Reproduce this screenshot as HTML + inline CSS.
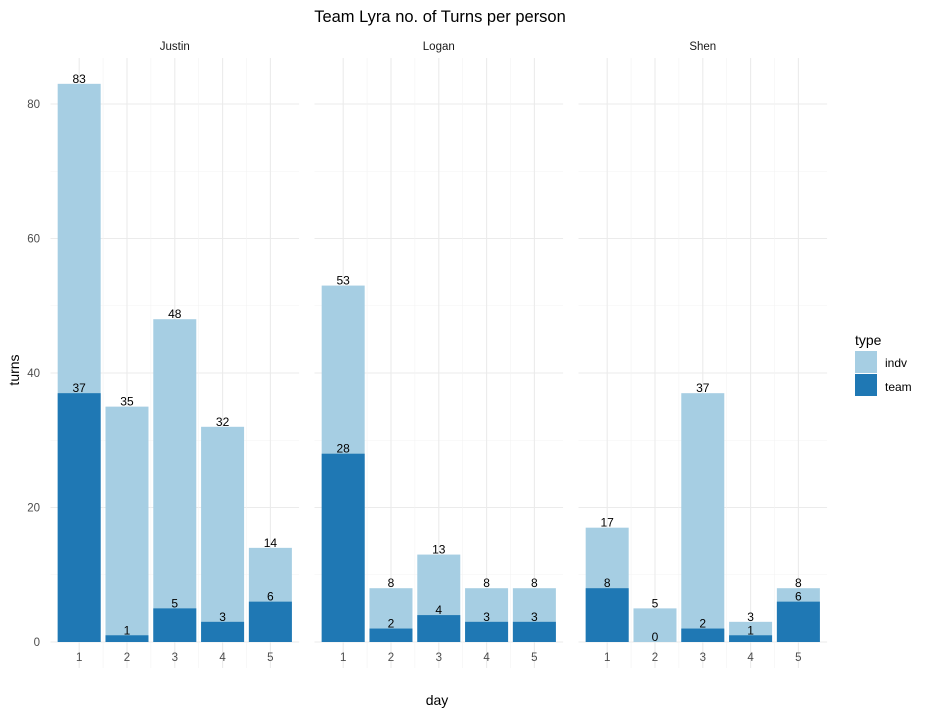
<!DOCTYPE html>
<html><head><meta charset="utf-8"><style>
body{margin:0;background:#fff;font-family:"Liberation Sans",Arial,sans-serif;}
svg text{font-family:"Liberation Sans",Arial,sans-serif;}
</style></head><body>
<svg id="chart" width="928" height="714" xmlns="http://www.w3.org/2000/svg">
<text x="440" y="22" text-anchor="middle" font-size="16.5" fill="#000">Team Lyra no. of Turns per person</text>
<text x="437" y="705" text-anchor="middle" font-size="14" fill="#000">day</text>
<text transform="translate(19,370) rotate(-90)" text-anchor="middle" font-size="14" fill="#000">turns</text>
<g>
<text x="855" y="345" font-size="14" fill="#000">type</text>
<rect x="855" y="351" width="22" height="22" fill="#a6cee3"/>
<text x="885" y="367" font-size="12" fill="#000">indv</text>
<rect x="855" y="374" width="22" height="22" fill="#1f78b4"/>
<text x="885" y="391" font-size="12" fill="#000">team</text>
</g>
<g id="plot"></g>
</svg>
<script>
const people = ["Justin", "Logan", "Shen"];
const days = ["1", "2", "3", "4", "5"];
const indvValues = [[83,35,48,32,14],[53,8,13,8,8],[17,5,37,3,8]];
const teamValues = [[37,1,5,3,6],[28,2,4,3,3],[8,0,2,1,6]];
const yTicks = [0,20,40,60,80];
const yMinor = [10,30,50,70];

const NS="http://www.w3.org/2000/svg";
const g=document.getElementById('plot');
const y0=642, yScale=(642-104)/80;
const y=v=>y0-v*yScale;
const panelLefts=[50.5,314.5,578.5], step=47.8, panelW=5.2*step;
const panelTop=58, panelBottom=668;
function mk(tag,attrs){const e=document.createElementNS(NS,tag);for(const k in attrs)e.setAttribute(k,attrs[k]);g.appendChild(e);return e;}
function xc(p,i){return panelLefts[p]+(i+0.6)*step;}

people.forEach((name,p)=>{
  const L=panelLefts[p];
  yMinor.forEach(v=>{const l=mk('line',{x1:L,x2:L+panelW,y1:y(v),y2:y(v),stroke:'#f3f3f3','stroke-width':0.6});
    
    });
  yTicks.forEach(v=>{const l=mk('line',{x1:L,x2:L+panelW,y1:y(v),y2:y(v),stroke:'#ebebeb','stroke-width':1.1});
    
    });
  days.forEach((d,i)=>{
    const l=mk('line',{x1:xc(p,i),x2:xc(p,i),y1:panelTop,y2:panelBottom,stroke:'#ebebeb','stroke-width':1.1});
    
    
    if(i<4){const m=mk('line',{x1:xc(p,i)+step/2,x2:xc(p,i)+step/2,y1:panelTop,y2:panelBottom,stroke:'#f3f3f3','stroke-width':0.6});
      
      }
  });
  const s=mk('text',{x:L+panelW/2,y:50,'text-anchor':'middle','font-size':11.5,fill:'#1a1a1a'});
  s.textContent=name;
  
  
  days.forEach((d,i)=>{
    const cx=xc(p,i), bw=43;
    const iv=indvValues[p][i], tv=teamValues[p][i];
    const b1=mk('rect',{x:cx-bw/2,y:y(iv),width:bw,height:iv*yScale,fill:'#a6cee3'});
    
    
    const b2=mk('rect',{x:cx-bw/2,y:y(tv),width:bw,height:tv*yScale,fill:'#1f78b4'});
    
    
    const t1=mk('text',{x:cx,y:y(iv)-1,'text-anchor':'middle','font-size':12,fill:'#000'});
    t1.textContent=iv;
    
    
    const t2=mk('text',{x:cx,y:y(tv)-1,'text-anchor':'middle','font-size':12,fill:'#000'});
    t2.textContent=tv;
    
    
    const xt=mk('text',{x:cx,y:661,'text-anchor':'middle','font-size':11.5,fill:'#4d4d4d'});
    xt.textContent=d;
    
    
  });
});
yTicks.forEach(v=>{
  const t=mk('text',{x:40,y:y(v)+4,'text-anchor':'end','font-size':11.5,fill:'#4d4d4d'});
  t.textContent=v;
  
  
});
</script>
</body></html>
